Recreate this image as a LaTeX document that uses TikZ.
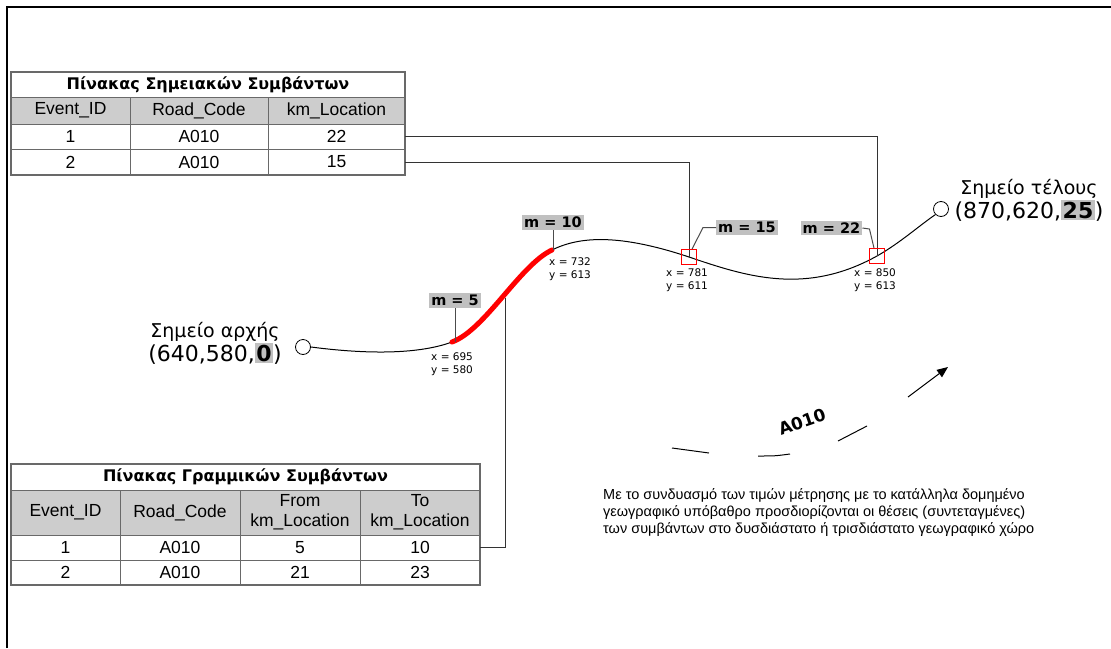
\documentclass[tikz,border=0pt]{standalone}
\usepackage{fontspec}
\setmainfont{Liberation Sans}
\newfontfamily\verd{DejaVu Sans}
\usetikzlibrary{arrows.meta,calc}
\definecolor{hdr}{RGB}{205,205,205}
\definecolor{lbl}{RGB}{192,192,192}
\definecolor{tline}{RGB}{105,105,105}
\newcommand{\hl}[1]{{\setlength{\fboxsep}{1.5pt}\colorbox{lbl}{\bfseries #1}}}
\tikzset{
 cell/.style={draw=tline, line width=0.8, inner sep=0, outer sep=0, font=\fontsize{17.5}{20}\selectfont, align=center},
 hcell/.style={cell, fill=hdr},
 tcell/.style={cell, font=\verd\bfseries\fontsize{16}{18}\selectfont},
 conn/.style={draw=black!80, line width=0.9},
 mlabel/.style={fill=lbl, font=\verd\bfseries\fontsize{14.5}{16}\selectfont, inner xsep=2, inner ysep=2},
 coordlbl/.style={font=\verd\fontsize{10.5}{13}\selectfont, align=left, inner sep=0, anchor=north west},
 redbox/.style={draw=red, line width=0.8, minimum size=15, inner sep=0},
 endpt/.style={circle, draw, line width=0.8, minimum size=15, inner sep=0},
 leader/.style={draw=black!70, line width=1},
 bigtxt/.style={font=\verd\fontsize{19}{24}\selectfont, align=center},
 road/.style={line width=1},
}
\newcommand{\bigline}[1]{{\fontsize{22}{24}\selectfont #1}}
\begin{document}
\begin{tikzpicture}[x=1pt,y=-1pt]
\useasboundingbox (0,0) rectangle (1111,648);
\draw[line width=2] (7,648) -- (7,7) -- (1111,7);

% ---------- Table 1 ----------
\node[tcell, minimum width=394, minimum height=25] (t1t) at (208,84.5) {Πίνακας Σημειακών Συμβάντων};
\node[hcell, minimum width=119, minimum height=27] (t1h1) at (70.5,110.5) {Event\_ID};
\node[hcell, minimum width=138, minimum height=27] (t1h2) at (199,110.5) {Road\_Code};
\node[hcell, minimum width=137, minimum height=27] (t1h3) at (336.5,110.5) {km\_Location};
\node[cell, minimum width=119, minimum height=25] (t1r1c1) at (70.5,136.5) {1};
\node[cell, minimum width=138, minimum height=25] (t1r1c2) at (199,136.5) {A010};
\node[cell, minimum width=137, minimum height=25] (t1r1c3) at (336.5,136.5) {22};
\node[cell, minimum width=119, minimum height=26] (t1r2c1) at (70.5,162) {2};
\node[cell, minimum width=138, minimum height=26] (t1r2c2) at (199,162) {A010};
\node[cell, minimum width=137, minimum height=26] (t1r2c3) at (336.5,162) {15};
\draw[line width=1.6, tline] (t1t.north west) rectangle (t1r2c3.south east);

% ---------- Table 2 ----------
\node[tcell, minimum width=469, minimum height=26] (t2t) at (245.5,477) {Πίνακας Γραμμικών Συμβάντων};
\node[hcell, minimum width=109, minimum height=45] (t2h1) at (65.5,512.5) {Event\_ID};
\node[hcell, minimum width=120, minimum height=45] (t2h2) at (180,512.5) {Road\_Code};
\node[hcell, minimum width=120, minimum height=45] (t2h3) at (300,512.5) {From\\km\_Location};
\node[hcell, minimum width=120, minimum height=45] (t2h4) at (420,512.5) {To\\km\_Location};
\node[cell, minimum width=109, minimum height=25] (t2r1c1) at (65.5,547.5) {1};
\node[cell, minimum width=120, minimum height=25] (t2r1c2) at (180,547.5) {A010};
\node[cell, minimum width=120, minimum height=25] (t2r1c3) at (300,547.5) {5};
\node[cell, minimum width=120, minimum height=25] (t2r1c4) at (420,547.5) {10};
\node[cell, minimum width=109, minimum height=25] (t2r2c1) at (65.5,572.5) {2};
\node[cell, minimum width=120, minimum height=25] (t2r2c2) at (180,572.5) {A010};
\node[cell, minimum width=120, minimum height=25] (t2r2c3) at (300,572.5) {21};
\node[cell, minimum width=120, minimum height=25] (t2r2c4) at (420,572.5) {23};
\draw[line width=1.6, tline] (t2t.north west) rectangle (t2r2c4.south east);

% ---------- Road ----------
\node[endpt] (s) at (303,347) {};
\node[endpt] (e) at (941,209) {};
\coordinate (p5) at (452,342);
\coordinate (p10) at (552,250);
\coordinate (mid) at (505,298);
\coordinate (q15) at (689,257);
\coordinate (q22) at (877,256);

\draw[line width=1] (s.east) .. controls (380,356) and (425,352) .. (p5)
  .. controls (485,330) and (520,265) .. (p10)
  .. controls (580,236) and (620,234) .. (q15)
  .. controls (745,276) and (805,296) .. (q22)
  .. controls (900,243) and (920,225) .. (e.south west);
\draw[red, line width=5, line cap=round] (p5) .. controls (485,330) and (520,265) .. (p10);

% connectors from tables
\draw[conn] (t1r1c3.east) -| (q22);
\draw[conn] (t1r2c3.east) -| (q15);
\draw[conn] (t2r1c4.east) -| (mid);

\node[redbox] (p15) at (q15) {};
\node[redbox] (p22) at (q22) {};

% m labels
\node[mlabel] (m5) at (455,300.5) {m = 5};
\node[mlabel] (m10) at (553,222.5) {m = 10};
\node[mlabel] (m15) at (747,227.5) {m = 15};
\node[mlabel] (m22) at (831.5,228) {m = 22};
\draw[leader] (m5.south) -- (m5.south |- p5);
\draw[leader] (m10.south) -- (m10.south |- p10);
\draw[leader] (m15.west) -- ++(-13,0) -- ($(p15.north)+(3,0)$);
\draw[leader] (m22.east) -- ++(7,1) -- ($(p22.north)+(-3,0)$);

% coordinate labels
\node[coordlbl] (c5) at (431,353) {x = 695\\y = 580};
\node[coordlbl] (c10) at (549,258) {x = 732\\y = 613};
\node[coordlbl] (c15) at (666,269) {x = 781\\y = 611};
\node[coordlbl] (c22) at (854,269) {x = 850\\y = 613};

% start / end labels
\node[bigtxt] (slab) at (215,343) {Σημείο αρχής\\\bigline{(640,580,\hl{0})}};
\node[bigtxt] (elab) at (1029,200) {Σημείο τέλους\\\bigline{(870,620,\hl{25})}};

% direction arrow
\draw[road] (672,448) .. controls (690,450) .. (709,453);
\draw[road] (758,456) .. controls (775,456) .. (790,454);
\draw[road] (838,441) .. controls (853,434) .. (867,426);
\draw[road, -{Triangle[length=11,width=9]}] (908,397) -- (948,367);
\node[font=\verd\bfseries\fontsize{17}{18}\selectfont, rotate=19, inner sep=0] (rd) at (802,422) {A010};

% note
\node[anchor=north west, align=left, inner sep=0, font=\fontsize{14.5}{17}\selectfont] (note) at (603,488)
 {Με το συνδυασμό των τιμών μέτρησης με το κατάλληλα δομημένο\\
  γεωγραφικό υπόβαθρο προσδιορίζονται οι θέσεις (συντεταγμένες)\\
  των συμβάντων στο δυσδιάστατο ή τρισδιάστατο γεωγραφικό χώρο};
\end{tikzpicture}
\end{document}
